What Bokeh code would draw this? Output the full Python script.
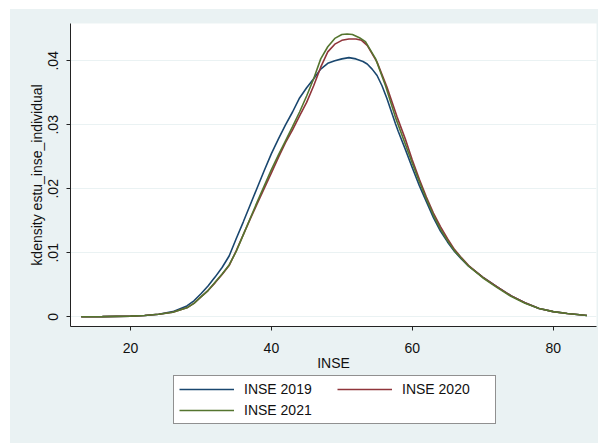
from bokeh.plotting import figure
from bokeh.layouts import column
from bokeh.models import Range1d, FixedTicker, Legend, LegendItem
from bokeh.embed import file_html
from bokeh.resources import INLINE

# ---- data ----
x_2019 = [13, 16, 20, 22, 24, 26, 28, 29, 30, 31, 32, 33, 34, 35, 36, 37, 38, 39, 40, 41, 42,
          43, 44, 45, 46, 47, 48, 49, 50, 51, 52, 53, 53.6, 54.3, 55, 55.7, 56.4, 57.6, 58,
          59, 60, 61, 62, 63, 64, 65, 66, 67, 68, 70, 72, 74, 76, 78, 80, 82, 84.8]
y_2019 = [0.0, 0.00002, 0.0001, 0.0002, 0.0004, 0.0008, 0.0017, 0.0025, 0.0036, 0.0048,
          0.0062, 0.0077, 0.0095, 0.0122, 0.0148, 0.0175, 0.0202, 0.0229, 0.0255, 0.0278,
          0.0300, 0.0320, 0.0342, 0.0358, 0.0372, 0.0387, 0.0396, 0.0400, 0.0403, 0.0405,
          0.0403, 0.0399, 0.0395, 0.0387, 0.0377, 0.0361, 0.0341, 0.0302, 0.0290,
          0.0262, 0.0233, 0.0205, 0.0180, 0.0155, 0.0134, 0.0117, 0.0102, 0.0090, 0.0079,
          0.0062, 0.0047, 0.0033, 0.0022, 0.0013, 0.0008, 0.0005, 0.0002]

x_2020 = [13, 16, 20, 22, 24, 26, 28, 29, 30, 31, 32, 33, 34, 35, 36, 37, 38, 39, 40, 41, 42,
          43, 44, 45, 46, 47, 48, 49, 50, 51, 52, 52.8, 53.6, 55, 56.4, 57.85, 59, 60, 61,
          62, 63, 64, 65, 66, 67, 68, 70, 72, 74, 76, 78, 80, 82, 84.8]
y_2020 = [0.0, 0.00002, 0.0001, 0.0002, 0.0004, 0.0007, 0.0014, 0.0021, 0.0031, 0.0041,
          0.0053, 0.0066, 0.0080, 0.0103, 0.0128, 0.0153, 0.0177, 0.0201, 0.0225, 0.0249,
          0.0272, 0.0292, 0.0314, 0.0335, 0.0361, 0.0390, 0.0414, 0.0426, 0.0432, 0.0434,
          0.0434, 0.0432, 0.0424, 0.0398, 0.0359, 0.0312, 0.0278, 0.0245, 0.0215,
          0.0187, 0.0162, 0.0141, 0.0122, 0.0105, 0.0092, 0.0080, 0.0062, 0.0047, 0.0033,
          0.0022, 0.0013, 0.0008, 0.0005, 0.0002]

x_2021 = [13, 16, 20, 22, 24, 26, 28, 29, 30, 31, 32, 33, 34, 35, 36, 37, 38, 39, 40, 41, 42,
          43, 44, 45, 46, 47, 48, 49, 50, 50.75, 51.5, 52.5, 53.35, 54, 54.8, 56.2, 57.6, 59,
          60, 61, 62, 63, 64, 65, 66, 67, 68, 70, 72, 74, 76, 78, 80, 82, 84.8]
y_2021 = [0.0, 0.00002, 0.0001, 0.0002, 0.0004, 0.0007, 0.0014, 0.0021, 0.0031, 0.0041,
          0.0054, 0.0067, 0.0081, 0.0102, 0.0128, 0.0154, 0.0180, 0.0205, 0.0230, 0.0253,
          0.0275, 0.0297, 0.0320, 0.0345, 0.0372, 0.0403, 0.0422, 0.0435, 0.0441, 0.0442,
          0.0441, 0.0436, 0.0430, 0.0418, 0.0403, 0.0361, 0.0312, 0.0270,
          0.0240, 0.0211, 0.0184, 0.0159, 0.0137, 0.0119, 0.0103, 0.0091, 0.0079,
          0.0061, 0.0046, 0.0032, 0.0021, 0.0013, 0.0008, 0.0005, 0.0002]

series_names = ["INSE 2019", "INSE 2020", "INSE 2021"]
x_ticks = [20, 40, 60, 80]
y_ticks = [0, 0.01, 0.02, 0.03, 0.04]
y_tick_labels = ["0", ".01", ".02", ".03", ".04"]
x_title = "INSE"
y_title = "kdensity estu_inse_individual"

# ---- styling ----
FONT = "Liberation Sans"
BG = "#eaf2f3"
colors = ["#1a476f", "#90353b", "#55752f"]
xs_all = [x_2019, x_2020, x_2021]
ys_all = [y_2019, y_2020, y_2021]

p = figure(width=588, height=366, output_backend="svg", toolbar_location=None,
           x_range=Range1d(11.48, 86.15), y_range=Range1d(-0.00152, 0.04583),
           min_border_left=60, min_border_right=2, min_border_top=14, min_border_bottom=49)
p.background_fill_color = "white"
p.border_fill_color = BG
p.outline_line_color = None

for xs, ys, c in zip(xs_all, ys_all, colors):
    p.line(xs, ys, line_color=c, line_width=1.6)

for ax in (p.xaxis[0], p.yaxis[0]):
    ax.axis_line_color = "#222222"
    ax.major_tick_line_color = "#222222"
    ax.major_tick_out = 4
    ax.major_tick_in = 0
    ax.minor_tick_line_color = None
    ax.major_label_text_font = FONT
    ax.major_label_text_font_size = "14px"
    ax.major_label_text_color = "#111111"
    ax.axis_label_text_font = FONT
    ax.axis_label_text_font_size = "14px"
    ax.axis_label_text_font_style = "normal"
    ax.axis_label_text_color = "#111111"

p.xaxis.ticker = FixedTicker(ticks=x_ticks)
p.xaxis.axis_label = x_title
p.xaxis.major_label_standoff = 12
p.xaxis.axis_label_standoff = -1

p.yaxis.ticker = FixedTicker(ticks=y_ticks)
p.yaxis.major_label_overrides = {t: l for t, l in zip(y_ticks, y_tick_labels)}
p.yaxis.major_label_orientation = "vertical"
p.yaxis.axis_label = y_title
p.yaxis.major_label_standoff = 8
p.yaxis.axis_label_standoff = 1

p.xgrid.grid_line_color = None
p.ygrid.grid_line_color = BG
p.ygrid.grid_line_width = 1.2

# legend strip (separate figure below the chart); its ranges keep the proxy lines out of view
q = figure(width=588, height=68, output_backend="svg", toolbar_location=None,
           x_axis_type=None, y_axis_type=None,
           x_range=Range1d(11.48, 86.15), y_range=Range1d(1, 2),
           min_border_left=0, min_border_right=0, min_border_top=0, min_border_bottom=0)
q.background_fill_alpha = 0
q.border_fill_color = BG
q.outline_line_color = None
proxies = [q.line(xs, ys, line_color=c, line_width=1.6) for xs, ys, c in zip(xs_all, ys_all, colors)]

order = [0, 2, 1]  # column-major fill, 2 rows -> row 1: 2019, 2020; row 2: 2021
legend = Legend(items=[LegendItem(label=series_names[i], renderers=[proxies[i]]) for i in order],
                nrows=2, location=(103, 19))
legend.label_text_font = FONT
legend.label_text_font_size = "14px"
legend.label_text_color = "#111111"
legend.glyph_width = 55
legend.glyph_height = 16
legend.label_height = 16
legend.label_width = 88
legend.label_standoff = 10
legend.spacing = 5
legend.padding = 5
legend.margin = 0
legend.border_line_color = "#222222"
legend.border_line_width = 1
legend.background_fill_color = "white"
legend.background_fill_alpha = 1
q.add_layout(legend, "center")

layout = column(p, q, spacing=0, margin=(9, 0, 0, 10), styles={"background-color": BG})
open("out.html", "w").write(file_html(layout, INLINE))
